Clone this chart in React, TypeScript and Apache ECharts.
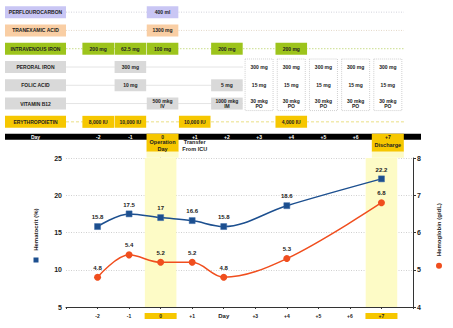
import React, { useEffect, useRef } from 'react';
import * as echarts from 'echarts';

// ---- data ----
const days = [-2, -1, 0, 1, 2, 4, 7];
const hematocrit = [15.8, 17.5, 17, 16.6, 15.8, 18.6, 22.2];
const hemoglobin = [4.8, 5.4, 5.2, 5.2, 4.8, 5.3, 6.8];

const axisDays = [-2, -1, 0, 1, 2, 3, 4, 5, 6, 7];
const axisDayLabels = ['-2', '-1', '0', '+1', 'Day', '+3', '+4', '+5', '+6', '+7'];
const barDayLabels = ['-2', '-1', '0', '+1', '+2', '+3', '+4', '+5', '+6', '+7'];
const highlightDays = [0, 7];
const subLabelDays = [0, 1, 7];
const subLabels = ['Operation\nDay', 'Transfer\nFrom ICU', 'Discharge'];

const drugRows = [
  'PERFLOUROCARBON',
  'TRANEXAMIC ACID',
  'INTRAVENOUS IRON',
  'PERORAL IRON',
  'FOLIC ACID',
  'VITAMIN B12',
  'ERYTHROPOIETIN',
];
// [row, day, text]
const doses: [number, number, string][] = [
  [0, 0, '400 ml'],
  [1, 0, '1300 mg'],
  [2, -2, '200 mg'],
  [2, -1, '62.5 mg'],
  [2, 0, '100 mg'],
  [2, 2, '200 mg'],
  [2, 4, '200 mg'],
  [3, -1, '300 mg'],
  [4, -1, '10 mg'],
  [4, 2, '5 mg'],
  [5, 0, '500 mkg\nIV'],
  [5, 2, '1000 mkg\nIM'],
  [6, -2, '8,000 IU'],
  [6, -1, '10,000 IU'],
  [6, 1, '10,000 IU'],
  [6, 4, '4,000 IU'],
];
const oralDays = [3, 4, 5, 6, 7];
const oralDoses = ['300 mg', '15 mg', '30 mkg\nPO'];
const oralFirstRow = 3;
const rowLineEnd = [7.5, 7.5, 7.5, 2.5, 2.5, 2.5, 7.5];

// ---- styles ----
const FONT = '"Liberation Sans", Arial, sans-serif';
const rowFill = ['#c9c6f4', '#f9cea4', '#9dc41c', '#d9d9d9', '#d9d9d9', '#d9d9d9', '#f6c700'];
const rowLine = ['#d2d2dc', '#e4d8c8', '#c9de8c', '#e4e4e4', '#e4e4e4', '#e4e4e4', '#eadf86'];
const rowDash: (number[] | null)[] = [[1, 1.5], [1, 1.5], [1.5, 1.5], null, null, null, [3, 2]];
const BLUE = '#1c4f8f';
const RED = '#f04e1e';
const YEL = '#f6c700';
const BAND = '#fdfbc6';
const LABEL_W = 61;
const CELL_H = 12;

export default function App() {
  const ref = useRef<HTMLDivElement>(null);
  useEffect(() => {
    document.body.style.margin = '0';
    const chart = echarts.init(ref.current!, null, { renderer: 'svg' });

    const rowsRender = (params: any, api: any) => {
      const i = params.dataIndex;
      const [x0, cy] = api.coord([-3, i]);
      const xEnd = api.coord([rowLineEnd[i], i])[0];
      return {
        type: 'group',
        children: [
          {
            type: 'line',
            shape: { x1: x0, y1: cy, x2: xEnd, y2: cy },
            style: { stroke: rowLine[i], lineWidth: 1, lineDash: rowDash[i] || undefined },
          },
          {
            type: 'rect',
            shape: { x: x0 - LABEL_W, y: cy - CELL_H / 2, width: LABEL_W, height: CELL_H },
            style: { fill: rowFill[i] },
          },
          {
            type: 'text',
            x: x0 - LABEL_W / 2,
            y: cy,
            style: {
              text: drugRows[i],
              fill: '#222',
              font: `bold 5px ${FONT}`,
              align: 'center',
              verticalAlign: 'middle',
            },
          },
        ],
      };
    };

    const doseRender = (params: any, api: any) => {
      const d = doses[params.dataIndex];
      const [cx, cy] = api.coord([d[1], d[0]]);
      const xl = api.coord([d[1] - 0.5, d[0]])[0];
      const xr = api.coord([d[1] + 0.5, d[0]])[0];
      return {
        type: 'group',
        children: [
          {
            type: 'rect',
            shape: { x: xl + 0.3, y: cy - CELL_H / 2, width: xr - xl - 0.6, height: CELL_H },
            style: { fill: rowFill[d[0]] },
          },
          {
            type: 'text',
            x: cx,
            y: cy,
            style: {
              text: d[2],
              fill: '#222',
              font: `bold 5px ${FONT}`,
              align: 'center',
              verticalAlign: 'middle',
              lineHeight: 5.5,
            },
          },
        ],
      };
    };

    const oralRender = (params: any, api: any) => {
      const d = oralDays[params.dataIndex];
      const [cx, top] = api.coord([d, oralFirstRow]);
      const bottom = api.coord([d, oralFirstRow + oralDoses.length - 1])[1];
      const children: any[] = [
        {
          type: 'rect',
          shape: { x: cx - 14, y: top - 8, width: 28, height: bottom - top + 15 },
          style: { fill: '#fff', stroke: '#bdbdbd', lineWidth: 0.7, lineDash: [1, 1] },
        },
      ];
      oralDoses.forEach((t, k) => {
        const y = api.coord([d, oralFirstRow + k])[1];
        children.push({
          type: 'text',
          x: cx,
          y,
          style: {
            text: t,
            fill: '#222',
            font: `bold 5px ${FONT}`,
            align: 'center',
            verticalAlign: 'middle',
            lineHeight: 5.5,
          },
        });
      });
      return { type: 'group', children };
    };

    const lastRow = drugRows.length - 1;
    const barRender = (params: any, api: any) => {
      const idx = params.dataIndex;
      if (idx === 0) {
        const [x0, cy] = api.coord([-3, lastRow]);
        const xEnd = api.coord([8, lastRow])[0];
        return {
          type: 'group',
          children: [
            {
              type: 'rect',
              shape: { x: x0 - LABEL_W, y: cy + 12, width: xEnd - x0 + LABEL_W + 1, height: 6 },
              style: { fill: '#000' },
            },
            {
              type: 'text',
              x: x0 - LABEL_W / 2,
              y: cy + 15,
              style: { text: 'Day', fill: '#fff', font: `bold 5px ${FONT}`, align: 'center', verticalAlign: 'middle' },
            },
          ],
        };
      }
      const k = idx - 1;
      const d = axisDays[k];
      const [cx, cy] = api.coord([d, lastRow]);
      const hl = highlightDays.indexOf(d) >= 0;
      const children: any[] = [];
      if (hl) {
        children.push({
          type: 'rect',
          shape: { x: cx - 16, y: cy + 12, width: 32, height: 18 },
          style: { fill: YEL },
        });
        children.push({
          type: 'rect',
          shape: { x: cx - 16, y: cy + 30, width: 32, height: 6 },
          style: { fill: BAND },
        });
      }
      children.push({
        type: 'text',
        x: cx,
        y: cy + 15,
        style: {
          text: barDayLabels[k],
          fill: hl ? '#222' : '#fff',
          font: `bold 5px ${FONT}`,
          align: 'center',
          verticalAlign: 'middle',
        },
      });
      const s = subLabelDays.indexOf(d);
      if (s >= 0) {
        children.push({
          type: 'text',
          x: cx,
          y: cy + 23.5,
          style: {
            text: subLabels[s],
            fill: '#222',
            font: `bold 5.5px ${FONT}`,
            align: 'center',
            verticalAlign: 'middle',
            lineHeight: 6.5,
          },
        });
      }
      return { type: 'group', children };
    };

    const option: any = {
      animation: false,
      textStyle: { fontFamily: FONT },
      grid: [
        { left: 66, right: 33, top: 158, bottom: 21 },
        { left: 66, right: 33, top: 3, height: 128 },
      ],
      xAxis: [
        {
          type: 'value',
          gridIndex: 0,
          min: -3,
          max: 8,
          interval: 1,
          axisLine: { show: true, lineStyle: { color: '#333', width: 1 } },
          axisTick: { show: true, length: 2, lineStyle: { color: '#333' } },
          splitLine: { show: false },
          axisLabel: {
            margin: 6,
            fontSize: 5,
            fontWeight: 'bold',
            color: '#222',
            formatter: (v: number) => {
              const i = axisDays.indexOf(v);
              if (i < 0) return '';
              const t = axisDayLabels[i];
              if (highlightDays.indexOf(v) >= 0) return `{hl|${t}}`;
              if (t === 'Day') return `{day|${t}}`;
              return t;
            },
            rich: {
              hl: {
                backgroundColor: YEL,
                width: 32,
                height: 6,
                align: 'center',
                fontSize: 5,
                fontWeight: 'bold',
                color: '#222',
              },
              day: { fontSize: 6, fontWeight: 'bold', color: '#222' },
            },
          },
        },
        { type: 'value', gridIndex: 1, min: -3, max: 8, show: false },
      ],
      yAxis: [
        {
          type: 'value',
          gridIndex: 0,
          min: 5,
          max: 25,
          interval: 5,
          axisLine: { show: true, lineStyle: { color: '#333' } },
          axisTick: { show: true, length: 3, lineStyle: { color: '#333' } },
          axisLabel: { fontSize: 7, fontWeight: 'bold', color: '#222', margin: 4 },
          splitLine: { show: true, lineStyle: { color: '#d0d0d0', type: [1, 1.5], width: 1 } },
          name: '{sq|}  {t|Hematocrit (%)}',
          nameLocation: 'middle',
          nameRotate: 90,
          nameGap: 24,
          nameTextStyle: {
            rich: {
              sq: { backgroundColor: BLUE, width: 5, height: 5 },
              t: { fontSize: 6, fontWeight: 'bold', color: '#222', padding: [0, 6, 0, 0] },
            },
          },
        },
        {
          type: 'value',
          gridIndex: 0,
          position: 'right',
          min: 4,
          max: 8,
          interval: 1,
          axisLine: { show: true, lineStyle: { color: '#333' } },
          axisTick: { show: true, length: 3, lineStyle: { color: '#333' } },
          axisLabel: { fontSize: 7, fontWeight: 'bold', color: '#222', margin: 4 },
          splitLine: { show: false },
          name: '{ci|}  {t|Hemoglobin (g/dL)}',
          nameLocation: 'middle',
          nameRotate: 90,
          nameGap: 20,
          nameTextStyle: {
            rich: {
              ci: { backgroundColor: RED, width: 6, height: 6, borderRadius: 3 },
              t: { fontSize: 6, fontWeight: 'bold', color: '#222', padding: [0, 7, 0, 0] },
            },
          },
        },
        {
          type: 'category',
          gridIndex: 1,
          data: drugRows,
          inverse: true,
          show: false,
        },
      ],
      series: [
        {
          type: 'line',
          name: 'Hematocrit (%)',
          xAxisIndex: 0,
          yAxisIndex: 0,
          data: days.map((d, i) => [d, hematocrit[i]]),
          smooth: 0.35,
          symbol: 'rect',
          symbolSize: 6,
          lineStyle: { color: BLUE, width: 1.5 },
          itemStyle: { color: BLUE, borderColor: '#3a6aa8', borderWidth: 0.5 },
          label: { show: true, position: 'top', distance: 3, fontSize: 6, fontWeight: 'bold', color: '#222' },
          markArea: {
            silent: true,
            itemStyle: { color: BAND },
            data: highlightDays.map((d) => [{ xAxis: d - 0.5 }, { xAxis: d + 0.5 }]),
          },
          z: 3,
        },
        {
          type: 'line',
          name: 'Hemoglobin (g/dL)',
          xAxisIndex: 0,
          yAxisIndex: 1,
          data: days.map((d, i) => [d, hemoglobin[i]]),
          smooth: 0.35,
          symbol: 'circle',
          symbolSize: 7,
          lineStyle: { color: RED, width: 1.5 },
          itemStyle: { color: RED },
          label: { show: true, position: 'top', distance: 3, fontSize: 6, fontWeight: 'bold', color: '#222' },
          z: 3,
        },
        {
          type: 'custom',
          xAxisIndex: 1,
          yAxisIndex: 2,
          data: drugRows.map((_, i) => [-3, i]),
          encode: { x: 0, y: 1 },
          renderItem: rowsRender,
          silent: true,
        },
        {
          type: 'custom',
          xAxisIndex: 1,
          yAxisIndex: 2,
          data: doses.map((d) => [d[1], d[0]]),
          encode: { x: 0, y: 1 },
          renderItem: doseRender,
          silent: true,
        },
        {
          type: 'custom',
          xAxisIndex: 1,
          yAxisIndex: 2,
          data: oralDays.map((d) => [d, oralFirstRow]),
          encode: { x: 0, y: 1 },
          renderItem: oralRender,
          silent: true,
        },
        {
          type: 'custom',
          xAxisIndex: 1,
          yAxisIndex: 2,
          data: [[-3, lastRow], ...axisDays.map((d) => [d, lastRow])],
          encode: { x: 0, y: 1 },
          renderItem: barRender,
          silent: true,
        },
      ],
    };
    chart.setOption(option);
    return () => chart.dispose();
  }, []);
  return <div ref={ref} style={{ width: 453, height: 328 }} />;
}
